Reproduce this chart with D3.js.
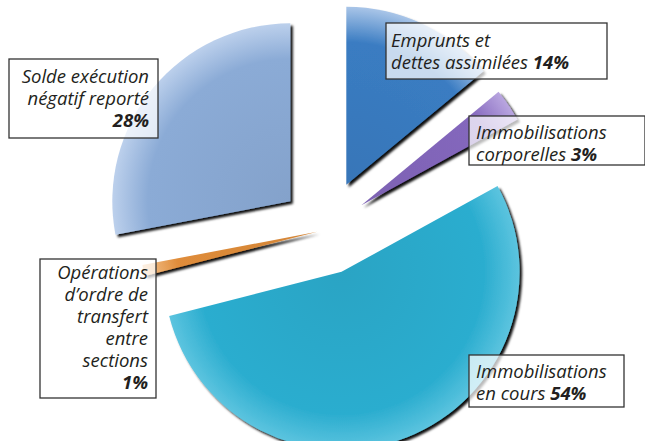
<!DOCTYPE html>
<html>
<head>
<meta charset="utf-8">
<script src="https://cdn.jsdelivr.net/npm/d3@7"></script>
<style>
  body { margin: 0; background: #fff; }
  svg { display: block; }
  text { font-family: "Open Sans", "Noto Sans", sans-serif; font-style: italic; fill: #231f20; }
</style>
</head>
<body>
<div id="chart"></div>
<script>

// data
const categories = ['Emprunts et dettes assimilées', 'Immobilisations corporelles', 'Immobilisations en cours', 'Opérations d’ordre de transfert entre sections', 'Solde exécution négatif reporté']
const values = [14, 3, 54, 1, 28]
const labelLines = [
	['Emprunts et', 'dettes assimilées'],
	['Immobilisations', 'corporelles'],
	['Immobilisations', 'en cours'],
	['Opérations', 'd’ordre de', 'transfert', 'entre', 'sections'],
	['Solde exécution', 'négatif reporté']
]
const percentOwnLine = [false, false, false, true, true]

// look
const explode = [50, 44, 45, 8, 45]
const colors = ['#3a7cc2', '#8467bd', '#2badcf', '#df8c3a', '#8babd6']
const rimColors = ['#a9c5e8', '#b9a6e0', '#5cc4df', '#f4c490', '#bcd0ec']
const boxes = [
	{x: 386, y: 23, w: 221, h: 56, tx: 391, anchor: 'start', top: 47},
	{x: 469, y: 116, w: 176, h: 49, tx: 476, anchor: 'start', top: 139},
	{x: 469, y: 355, w: 155, h: 52, tx: 476, anchor: 'start', top: 378},
	{x: 40, y: 259, w: 116, h: 139, tx: 148, anchor: 'end', top: 279},
	{x: 9, y: 59, w: 149, h: 79, tx: 149, anchor: 'end', top: 83}
]

const width = 645, height = 441
const cx = 325, cy = 230, radius = 178, lineH = 22

const svg = d3.select('#chart').append('svg')
	.attr('width', width)
	.attr('height', height)

const defs = svg.append('defs')

let shadow = defs.append('filter')
	.attr('id', 'shadow')
	.attr('x', '-10%').attr('y', '-10%')
	.attr('width', '130%').attr('height', '130%')

shadow.append('feDropShadow')
	.attr('dx', 2.5)
	.attr('dy', 2.5)
	.attr('stdDeviation', 1)
	.attr('flood-color', '#000')
	.attr('flood-opacity', 0.95)

const pie = d3.pie().sort(null).value(d => d)
const arcs = pie(values)

const arc = d3.arc().innerRadius(0).outerRadius(radius)

arcs.forEach(function(a, i){

	let mid = (a.startAngle + a.endAngle) / 2
	a.dx = Math.sin(mid) * explode[i]
	a.dy = -Math.cos(mid) * explode[i]

	let g = defs.append('radialGradient')
		.attr('id', 'grad' + i)
		.attr('gradientUnits', 'userSpaceOnUse')
		.attr('cx', 0).attr('cy', 0)
		.attr('r', radius)

	g.append('stop').attr('offset', '0%').attr('stop-color', d3.color(colors[i]).darker(0.15))
	g.append('stop').attr('offset', '80%').attr('stop-color', colors[i])
	g.append('stop').attr('offset', '100%').attr('stop-color', rimColors[i])
})

const slices = svg.append('g')
	.attr('transform', 'translate(' + cx + ',' + cy + ')')

slices.selectAll('.slice')
	.data(arcs)
	.enter()
	.append('g')
	.attr('class', 'slice')
	.attr('transform', d => 'translate(' + d.dx + ',' + d.dy + ')')
	.append('path')
	.attr('d', arc)
	.attr('fill', (d, i) => 'url(#grad' + i + ')')
	.attr('filter', 'url(#shadow)')

// labels
const labels = svg.selectAll('.label')
	.data(arcs)
	.enter()
	.append('g')
	.attr('class', 'label')

labels.append('rect')
	.attr('x', (d, i) => boxes[i].x)
	.attr('y', (d, i) => boxes[i].y)
	.attr('width', (d, i) => boxes[i].w)
	.attr('height', (d, i) => boxes[i].h)
	.attr('fill', '#fff')
	.attr('fill-opacity', 0.72)
	.attr('stroke', '#333')
	.attr('stroke-width', 1.3)

labels.each(function(d, i){

	let lines = labelLines[i].slice()
	let pct = values[i] + '%'
	let b = boxes[i]

	let text = d3.select(this).append('text')
		.attr('text-anchor', b.anchor)
		.attr('font-size', 18.5)

	let rows = percentOwnLine[i] ? lines.concat([pct]) : lines

	rows.forEach(function(line, k){

		let t = text.append('tspan')
			.attr('x', b.tx)
			.attr('y', b.top + k * lineH)

		if(percentOwnLine[i] && k == rows.length - 1){
			t.attr('font-weight', 'bold').text(line)
		}
		else{
			t.append('tspan').text(line)
			if(!percentOwnLine[i] && k == rows.length - 1){
				t.append('tspan').attr('font-weight', 'bold').text(' ' + pct)
			}
		}
	})
})

</script>
</body>
</html>
